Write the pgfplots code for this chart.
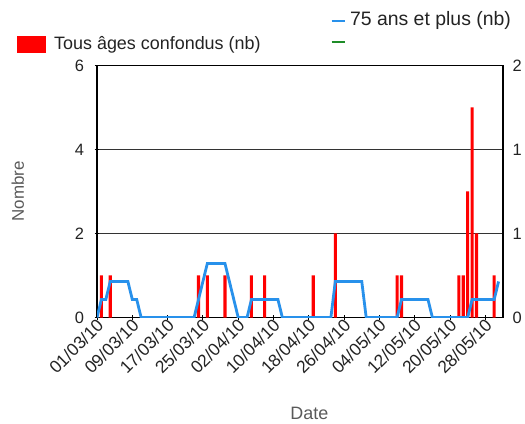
\documentclass[border=0pt]{standalone}
\usepackage{fontspec}
\setmainfont{Liberation Sans}
\usepackage{pgfplots}
\pgfplotsset{compat=1.18}
\definecolor{barred}{RGB}{255,0,0}
\definecolor{lineblue}{RGB}{40,145,235}
\definecolor{legreen}{RGB}{30,140,40}
\definecolor{labgray}{RGB}{90,90,90}
\definecolor{txt}{RGB}{35,35,35}
\begin{document}
\begin{tikzpicture}
\useasboundingbox (0,0) rectangle (525bp,424bp);
\begin{axis}[
  at={(97bp,106.5bp)}, anchor=south west,
  width=406bp, height=252bp, scale only axis,
  xmin=0, xmax=92, ymin=0, ymax=6,
  ytick={0,2,4,6},
  xtick={0,8,...,88},
  xticklabels={01/03/10,09/03/10,17/03/10,25/03/10,02/04/10,10/04/10,18/04/10,26/04/10,04/05/10,12/05/10,20/05/10,28/05/10},
  xticklabel style={rotate=45, anchor=east, font=\fontsize{17.5}{20}\selectfont, text=txt, xshift=4bp, yshift=-4bp},
  yticklabel style={font=\fontsize{16.5}{19}\selectfont, text=txt, xshift=-7bp},
  /pgf/number format/assume math mode=true,
  ymajorgrids, major grid style={black!80, line width=1.2bp},
  axis line style={black, line width=1.5bp},
  tick style={black, line width=1bp},
  major tick length=5bp, tick align=center,
  xtick pos=bottom, ytick pos=left,
  ylabel={Nombre}, ylabel style={at={(axis description cs:-0.195,0.5)}, anchor=center, font=\fontsize{17}{19}\selectfont, text=labgray},
  xlabel={Date}, xlabel style={at={(axis description cs:0.523,-0.38)}, anchor=center, font=\fontsize{18}{20}\selectfont, text=labgray},
  legend style={at={(axis description cs:-0.197,1.0833)}, anchor=west, draw=none, fill=none, inner sep=0pt,
    font=\fontsize{18}{20}\selectfont, text=txt, column sep=8bp,
    nodes={inner sep=0pt, text height=13bp, text depth=4bp}},
  legend cell align=left,
]
\addplot[ybar, bar width=0.7, bar shift=0pt, fill=barred, draw=none,
  legend image code/.code={\fill[barred] (0bp,-8.5bp) rectangle (29bp,8.5bp);}]
  coordinates {(1,1) (3,1) (23,1) (25,1) (29,1) (35,1) (38,1) (49,1) (54,2) (68,1) (69,1) (82,1) (83,1) (84,3) (85,5) (86,2) (90,1)};
\addlegendentry{Tous âges confondus (nb)}
\end{axis}
\begin{axis}[
  at={(97bp,106.5bp)}, anchor=south west,
  width=406bp, height=252bp, scale only axis,
  xmin=0, xmax=92, ymin=0, ymax=2,
  axis x line=none, axis y line*=right,
  axis line style={black, line width=1.5bp},
  ytick={0,0.66667,1.33333,2}, yticklabels={0,1,1,2},
  yticklabel style={font=\fontsize{16.5}{19}\selectfont, text=txt, xshift=6bp},
  major tick length=0pt,
  legend image code/.code={\draw[#1] (0bp,0bp) -- (13bp,0bp);},
  legend style={at={(axis description cs:0.574,1.135)}, anchor=west, draw=none, fill=none, inner sep=0pt,
    font=\fontsize{19.5}{21}\selectfont, text=txt, column sep=4bp, row sep=4bp,
    nodes={inner sep=0pt, text height=13bp, text depth=4bp}},
  legend cell align=left,
]
\addplot[lineblue, line width=2.8bp] coordinates {
(0,0) (1,0.142857) (2,0.142857) (3,0.285714) (7,0.285714) (8,0.142857) (9,0.142857) (10,0)
(22,0) (23,0.142857) (24,0.285714) (25,0.428571) (29,0.428571) (30,0.285714) (31,0.142857) (32,0)
(34,0) (35,0.142857) (41,0.142857) (42,0) (53,0) (54,0.285714) (60,0.285714) (61,0)
(68,0) (69,0.142857) (75,0.142857) (76,0) (84,0) (85,0.142857) (90,0.142857) (91,0.285714)};
\addlegendentry{75 ans et plus (nb)}
\addlegendimage{legreen, line width=2bp}
\addlegendentry{}
\end{axis}
\end{tikzpicture}
\end{document}
